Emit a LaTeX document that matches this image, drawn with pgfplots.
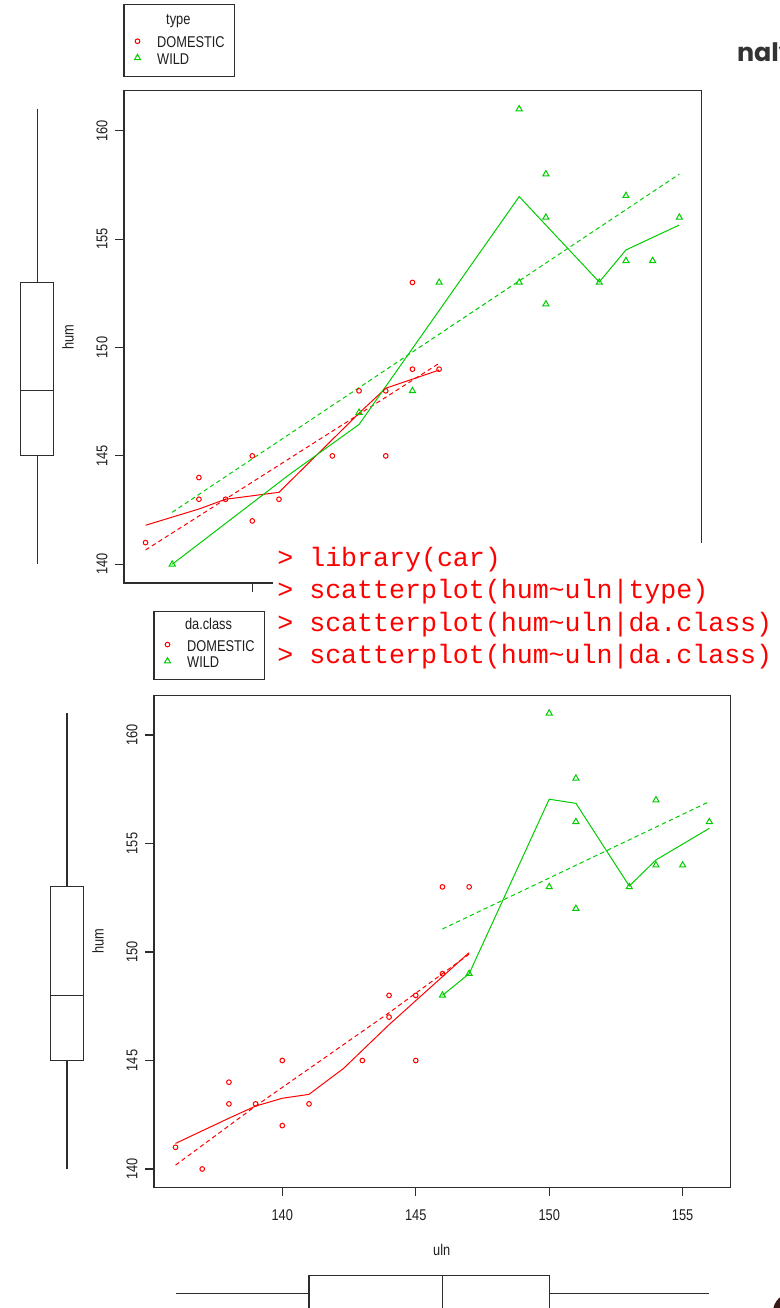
\documentclass[border=0pt]{standalone}
\usepackage{pgfplots}
\pgfplotsset{compat=1.18}
\usepgfplotslibrary{statistics}
\usepackage{fontspec}
\setmainfont{Liberation Sans}[FakeStretch=0.82]
\newfontfamily\monof{Liberation Mono}
\newfontfamily\popf{Poppins}
\definecolor{rred}{RGB}{255,0,0}
\definecolor{rgreen}{RGB}{0,205,0}
\definecolor{frm}{RGB}{45,45,45}
\definecolor{txt}{RGB}{30,30,30}
\definecolor{logo}{RGB}{51,51,51}
\definecolor{blob}{RGB}{60,25,25}

\pgfplotstableread{
x y
136 141
138 143
138 144
139 143
140 142
140 145
141 143
143 145
144 148
145 145
145 148
146 149
146 153
147 149
}\topdom
\pgfplotstableread{
x y
137 140
144 147
146 148
147 153
150 153
150 161
151 152
151 156
151 158
153 153
154 154
154 157
155 154
156 156
}\topwild
\pgfplotstableread{
x y
136 141
137 140
138 143
138 144
139 143
140 142
140 145
141 143
143 145
144 147
144 148
145 145
145 148
146 149
146 153
147 153
}\botdom
\pgfplotstableread{
x y
146 148
147 149
150 153
150 161
151 152
151 156
151 158
153 153
154 154
154 157
155 154
156 156
}\botwild

\pgfplotsset{
  rax/.style={scale only axis, anchor=south west,
    axis line style={frm, line width=0.55pt},
    tick style={frm, line width=0.55pt},
    tick align=outside, major tick length=4.6pt, tick pos=left,
    /pgf/number format/assume math mode=true,
    ticklabel style={font=\fontsize{7.8}{9}\selectfont, text=txt},
    yticklabel style={rotate=90, anchor=south, inner sep=0pt},
    yticklabel shift=3.4pt,
    xticklabel style={anchor=north, inner sep=0pt},
    xticklabel shift=6.45pt,
    legend cell align=left,
    legend style={at={(0,1)}, anchor=south west, draw=none, fill=none,
      inner xsep=2pt, inner ysep=0pt, row sep=0pt, column sep=5.3pt,
      font=\fontsize{7.8}{9}\selectfont, text=txt,
      nodes={inner sep=0pt, text height=6pt, text depth=2.35pt}},
    legend image code/.code={\path (0pt,0pt) (8.7pt,0pt);
      \draw[##1] plot coordinates {(4.35pt,1.5pt)};},
  },
  dom/.style={only marks, mark=o, mark size=1.17pt, draw=rred, mark options={line width=0.5pt}},
  wil/.style={only marks, mark=triangle, mark size=1.75pt, draw=rgreen, mark options={line width=0.5pt}},
  sol/.style={line width=0.5pt, no marks, forget plot},
  dsh/.style={line width=0.5pt, no marks, forget plot, dash pattern=on 2.2pt off 1.6pt},
  bx/.style={scale only axis, anchor=south west, hide axis, clip=false},
}

\begin{document}
\begin{tikzpicture}
\useasboundingbox (0,0) rectangle (390pt,654pt);
\clip (0,0) rectangle (390pt,654pt);
\fill[white] (0,0) rectangle (390pt,654pt);

% ---------- top plot ----------
\begin{axis}[bx, at={(10.35pt,362.5pt)}, width=16.5pt, height=246.15pt,
  xmin=0, xmax=1, ymin=139.137, ymax=161.845]
\addplot[frm, line width=0.55pt, boxplot prepared={draw direction=y, draw position=0.5,
  box extend=1, whisker extend=0, lower whisker=140, lower quartile=145,
  median=148, upper quartile=153, upper whisker=161}] coordinates {};
\end{axis}

\draw[frm, line width=0.55pt] (62pt,615.9pt) rectangle (117.15pt,651.65pt);
\node[anchor=base, inner sep=0pt, font=\fontsize{7.8}{9}\selectfont, text=txt] at (89.15pt,641.85pt) {type};

\begin{axis}[rax, at={(62pt,362.5pt)}, width=288.85pt, height=246.15pt,
  xmin=135.193, xmax=156.838, ymin=139.137, ymax=161.845,
  xtick={140,145,150,155}, xticklabels={},
  ytick={140,145,150,155,160},
  legend style={yshift=10.5pt}]
\addplot[dom] table {\topdom};
\addlegendentry{DOMESTIC}
\addplot[wil] table {\topwild};
\addlegendentry{WILD}
\addplot[sol, rred] coordinates {(136,141.8) (138,142.55) (139,143.0) (141,143.32) (144,146.97) (145,148.12) (147,148.96)};
\addplot[dsh, rred] coordinates {(136,140.66) (147,149.27)};
\addplot[sol, rgreen] coordinates {(137,140) (141.4,144.15) (144,146.45) (150,156.96) (153,153.02) (154,154.5) (156,155.65)};
\addplot[dsh, rgreen] coordinates {(137,142.4) (156,158.0)};
\end{axis}
\node[rotate=90, inner sep=0pt, font=\fontsize{7.8}{9}\selectfont, text=txt] at (34pt,485.5pt) {hum};

% white console area
\fill[white] (136.5pt,354pt) rectangle (390pt,382.5pt);
\foreach \yy/\tt in {370.65/{> library(car)}, 354.55/{> scatterplot(hum\textasciitilde uln|type)},
  338.45/{> scatterplot(hum\textasciitilde uln|da.class)}, 322.35/{> scatterplot(hum\textasciitilde uln|da.class)}}
  \node[anchor=base west, inner sep=0pt, text=rred, font=\monof\fontsize{13.3}{15}\selectfont] at (138.5pt,\yy pt) {\tt};

% ---------- bottom plot ----------
\begin{axis}[bx, at={(25.15pt,60.35pt)}, width=16.7pt, height=245.8pt,
  xmin=0, xmax=1, ymin=139.157, ymax=161.81]
\addplot[frm, line width=0.55pt, boxplot prepared={draw direction=y, draw position=0.5,
  box extend=1, whisker extend=0, lower whisker=140, lower quartile=145,
  median=148, upper quartile=153, upper whisker=161}] coordinates {};
\end{axis}

\begin{axis}[bx, at={(77pt,-1.5pt)}, width=288.35pt, height=17.6pt,
  xmin=135.193, xmax=156.80, ymin=0, ymax=1]
\addplot[frm, line width=0.55pt, boxplot prepared={draw direction=x, draw position=0.5,
  box extend=1, whisker extend=0, lower whisker=136, lower quartile=141,
  median=146, upper quartile=150, upper whisker=156}] coordinates {};
\end{axis}

\draw[frm, line width=0.55pt] (77pt,314.35pt) rectangle (132.15pt,348.35pt);
\node[anchor=base, inner sep=0pt, font=\fontsize{7.8}{9}\selectfont, text=txt] at (104.25pt,339.35pt) {da.class};

\begin{axis}[rax, at={(77pt,60.35pt)}, width=288.35pt, height=245.8pt,
  xmin=135.193, xmax=156.80, ymin=139.157, ymax=161.81,
  xtick={140,145,150,155},
  ytick={140,145,150,155,160},
  legend style={yshift=11.35pt}]
\addplot[dom] table {\botdom};
\addlegendentry{DOMESTIC}
\addplot[wil] table {\botwild};
\addlegendentry{WILD}
\addplot[sol, rred] coordinates {(136,141.18) (138,142.34) (139,142.9) (140,143.26) (141,143.44) (142.3,144.64) (144,146.65) (147,149.97)};
\addplot[dsh, rred] coordinates {(136,140.18) (139,142.9) (144,147.2) (147,149.9)};
\addplot[sol, rgreen] coordinates {(146,148) (147,149) (150,157.04) (151,156.85) (153,153.04) (154,154.24) (156,155.7)};
\addplot[dsh, rgreen] coordinates {(146,151.06) (156,156.93)};
\end{axis}
\node[rotate=90, inner sep=0pt, font=\fontsize{7.8}{9}\selectfont, text=txt] at (49pt,183.25pt) {hum};
\node[inner sep=0pt, font=\fontsize{7.8}{9}\selectfont, text=txt] at (220.85pt,29pt) {uln};

% decorations
\node[anchor=base west, inner sep=0pt, text=logo, font=\popf\bfseries\fontsize{12.7}{14}\selectfont] at (368.35pt,623.15pt) {nalytics};
\fill[blob] (396pt,-2pt) circle (9.5pt);
\end{tikzpicture}
\end{document}
